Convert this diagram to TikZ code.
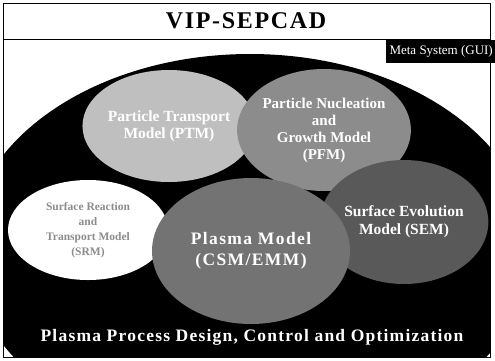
\documentclass[tikz,border=0pt]{standalone}
\usepackage{fontspec}
\setmainfont{Liberation Serif}
\usetikzlibrary{shapes.geometric}
\begin{document}
\begin{tikzpicture}[x=1pt,y=-1pt,
  frame/.style={draw=black,line width=0.8pt},
  blob/.style={ellipse,inner sep=0pt,align=center,font=\bfseries,text=white},
  metabox/.style={text=white,anchor=east,inner sep=1pt,font=\fontsize{13}{15}\selectfont}]
\useasboundingbox (0,0) rectangle (495,360);
\fill[white] (0,0) rectangle (495,360);
% big black ellipse
\begin{scope}
\clip (3,40) rectangle (490,357);
\fill[black] (250,250) ellipse [x radius=282, y radius=196];
\end{scope}
% frame
\draw[frame] (3,3) rectangle (490,357);
\draw[frame] (3,39) -- (490,39);
\node[font=\fontsize{24}{28}\selectfont\bfseries\addfontfeature{LetterSpace=7}] (title) at (246,21) {VIP-SEPCAD};
\fill[black] (386,40) rectangle (495,63);
\node[metabox] (meta) at (494,51.5) {Meta System (GUI)};
% model ellipses
\node[blob,fill=black!25,minimum width=162,minimum height=112,font=\fontsize{15.5}{17}\selectfont\bfseries] (ptm) at (169,126) {Particle Transport\\Model (PTM)};
\node[blob,fill=black!45,minimum width=160,minimum height=122,font=\fontsize{15}{17}\selectfont\bfseries] (pfm) at (324,130) {Particle Nucleation\\and\\Growth Model\\(PFM)};
\node[blob,fill=black!65,minimum width=166,minimum height=124,font=\fontsize{15.5}{18}\selectfont\bfseries] (sem) at (404,222) {Surface Evolution\\Model (SEM)};
\node[blob,fill=white,text=black!45,minimum width=160,minimum height=100,font=\fontsize{11.5}{15}\selectfont\bfseries] (srm) at (88,230) {Surface Reaction\\and\\Transport Model\\(SRM)};
\node[blob,fill=black!55,minimum width=198,minimum height=146,font=\fontsize{17.5}{21}\selectfont\bfseries\addfontfeature{LetterSpace=8}] (pm) at (251,251) {Plasma Model\\(CSM/EMM)};
% bottom text
\node[text=white,font=\fontsize{17.5}{20}\selectfont\bfseries\addfontfeature{LetterSpace=7}] (foot) at (252,337) {Plasma Process Design, Control and Optimization};
\end{tikzpicture}
\end{document}
